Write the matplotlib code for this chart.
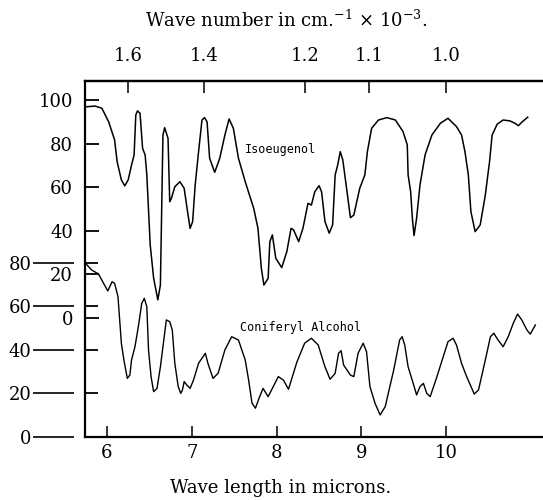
import numpy as np
import matplotlib
matplotlib.use("Agg")
from matplotlib import pyplot as plt

plt.rcParams["font.family"] = "DejaVu Serif"
plt.rcParams["mathtext.fontset"] = "dejavuserif"

# Isoeugenol (wave length in microns, % transmission)
iso_um = [5.76, 5.86, 5.94, 6.02, 6.09, 6.12, 6.17, 6.21, 6.25, 6.29, 6.32, 6.34, 6.36, 6.39,
          6.42, 6.45, 6.47, 6.51, 6.55, 6.60, 6.63, 6.65, 6.66, 6.68, 6.72, 6.74, 6.76, 6.80,
          6.86, 6.91, 6.95, 6.98, 7.01, 7.04, 7.08, 7.12, 7.15, 7.18, 7.21, 7.27, 7.33, 7.39,
          7.44, 7.49, 7.55, 7.63, 7.73, 7.78, 7.82, 7.85, 7.90, 7.92, 7.95, 7.99, 8.06, 8.12,
          8.17, 8.20, 8.26, 8.31, 8.37, 8.41, 8.45, 8.50, 8.53, 8.57, 8.62, 8.66, 8.69, 8.72,
          8.75, 8.78, 8.83, 8.87, 8.91, 8.98, 9.04, 9.07, 9.12, 9.20, 9.30, 9.40, 9.49, 9.54,
          9.55, 9.58, 9.60, 9.62, 9.65, 9.69, 9.75, 9.83, 9.93, 10.02, 10.12, 10.18, 10.22,
          10.26, 10.29, 10.34, 10.40, 10.46, 10.51, 10.54, 10.60, 10.67, 10.75, 10.81, 10.85,
          10.89, 10.96]
iso_t = [96.9, 97.2, 96.2, 90.0, 81.7, 71.7, 63.3, 60.6, 63.3, 70.2, 74.8, 93.1, 95.0, 93.9,
         77.8, 74.8, 65.6, 33.5, 18.3, 8.3, 15.1, 61.0, 83.9, 87.3, 82.4, 53.3, 54.9, 60.2,
         62.5, 59.5, 48.8, 41.1, 44.2, 61.0, 76.3, 90.8, 91.9, 90.0, 73.3, 66.8, 73.3, 83.9,
         91.3, 87.0, 73.3, 62.5, 50.3, 41.1, 22.8, 15.1, 18.2, 35.0, 38.1, 27.4, 23.1, 30.4,
         41.1, 40.4, 35.0, 41.1, 52.6, 51.8, 57.9, 60.7, 57.9, 44.2, 38.9, 42.7, 65.6, 70.2,
         76.3, 72.5, 57.9, 46.0, 47.2, 59.5, 65.6, 76.3, 87.0, 90.8, 91.9, 90.8, 85.5, 79.4,
         65.6, 57.9, 45.7, 37.8, 45.7, 61.0, 74.8, 83.9, 89.3, 91.6, 87.8, 83.9, 76.3,
         65.6, 48.8, 39.6, 42.7, 56.4, 71.7, 83.9, 88.9, 90.8, 90.4, 89.3, 88.2,
         89.8, 92.1]

# Coniferyl alcohol
con_um = [5.74, 5.82, 5.90, 5.96, 6.01, 6.06, 6.09, 6.13, 6.17, 6.20, 6.24, 6.27, 6.29, 6.33,
          6.37, 6.41, 6.44, 6.47, 6.49, 6.52, 6.55, 6.59, 6.63, 6.66, 6.70, 6.74, 6.77, 6.80,
          6.84, 6.87, 6.89, 6.91, 6.94, 6.98, 7.02, 7.08, 7.16, 7.19, 7.25, 7.31, 7.39, 7.47,
          7.55, 7.63, 7.67, 7.71, 7.75, 7.80, 7.84, 7.90, 7.96, 8.02, 8.08, 8.14, 8.24, 8.33,
          8.41, 8.49, 8.57, 8.63, 8.69, 8.73, 8.76, 8.79, 8.87, 8.91, 8.96, 9.02, 9.06, 9.10,
          9.16, 9.22, 9.28, 9.38, 9.45, 9.48, 9.51, 9.55, 9.61, 9.65, 9.69, 9.73, 9.77, 9.81,
          9.89, 9.97, 10.02, 10.08, 10.12, 10.18, 10.24, 10.33, 10.38, 10.46, 10.52, 10.56,
          10.61, 10.67, 10.73, 10.79, 10.84, 10.89, 10.95, 10.99, 11.05]
con_t = [80.0, 76.6, 74.8, 70.5, 67.0, 71.2, 70.5, 64.4, 43.0, 35.3, 26.9, 28.4, 35.3, 41.4,
         50.6, 61.3, 63.6, 59.8, 39.9, 27.7, 20.8, 22.3, 32.2, 41.4, 53.7, 52.9, 49.1, 33.8,
         23.1, 20.0, 21.6, 25.4, 23.9, 22.3, 26.1, 33.8, 38.4, 33.8, 26.9, 29.2, 39.9, 46.0,
         44.5, 35.3, 26.1, 15.5, 13.2, 18.5, 22.3, 18.5, 23.1, 27.7, 26.1, 21.9, 34.5, 43.0,
         45.3, 42.2, 32.2, 26.5, 29.2, 38.4, 39.6, 33.0, 28.4, 27.7, 38.4, 43.0, 39.1, 23.1,
         15.5, 10.1, 13.9, 30.7, 44.5, 46.0, 42.2, 32.2, 24.6, 19.3, 23.1, 24.6, 20.0, 18.5,
         27.7, 37.6, 43.7, 45.3, 42.2, 33.8, 27.7, 19.7, 21.6, 35.3, 46.0, 47.6,
         44.5, 41.4, 46.0, 52.2, 56.4, 53.7, 49.1, 47.2, 51.4]

upper_ticks = [0, 20, 40, 60, 80, 100]
lower_ticks = [0, 20, 40, 60, 80]
micron_ticks = [6, 7, 8, 9, 10]
wavenumber_ticks = [1.6, 1.4, 1.2, 1.1, 1.0]


def to_wavenumber(x):
    x = np.asarray(x, dtype=float)
    with np.errstate(divide="ignore"):
        return 10.0 / x


fig = plt.figure(figsize=(5.43, 5.0), dpi=100)
ax = fig.add_axes([0.1565, 0.126, 0.8435, 0.712])
ax_low = ax.twinx()
ax_in = ax.twinx()

ax.plot(iso_um, iso_t, color="black", lw=1.1, solid_joinstyle="round")
ax_low.plot(con_um, con_t, color="black", lw=1.0, solid_joinstyle="round")

ax.set_xlim(5.741, 11.14)
ax.set_ylim(-54.6, 108.7)
ax.spines["right"].set_visible(False)
for s in ["left", "top", "bottom"]:
    ax.spines[s].set_linewidth(1.6)
ax.set_xticks(micron_ticks)
ax.set_yticks(upper_ticks)
ax.tick_params(axis="y", direction="in", length=10, width=1.3, labelsize=13, pad=8.6)
ax.tick_params(axis="x", direction="in", length=8, width=1.1, labelsize=13, pad=5)

# lower scale: long ticks out on the far left, short ones inside the frame
for a in (ax_low, ax_in):
    a.set_ylim(0, 163.3)
    for s in a.spines.values():
        s.set_visible(False)
    a.yaxis.tick_left()
    a.set_yticks(lower_ticks)
ax_low.spines["left"].set_position(("outward", 7.9))
ax_low.tick_params(axis="y", direction="out", length=29.5, width=1.2, labelsize=13, pad=1,
                   left=True, right=False, labelleft=True, labelright=False)
ax_in.tick_params(axis="y", direction="in", length=9.5, width=1.3,
                  left=True, right=False, labelleft=False, labelright=False)

sec = ax.secondary_xaxis("top", functions=(to_wavenumber, to_wavenumber))
sec.set_xticks(wavenumber_ticks)
sec.set_xticklabels([f"{w:.1f}" for w in wavenumber_ticks])
sec.tick_params(direction="in", length=8.6, width=1.1, labelsize=13, pad=11.5)
sec.spines["top"].set_linewidth(1.6)

ax.text(7.63, 77.5, "Isoeugenol", family="DejaVu Sans Mono", fontsize=8.5, va="center")
ax_low.text(7.57, 50.0, "Coniferyl Alcohol", family="DejaVu Sans Mono", fontsize=8.5,
            va="center")

fig.text(0.527, 0.96, r"Wave number in cm.$^{-1}$ $\times$ 10$^{-3}$.",
         ha="center", va="center", fontsize=13)
fig.text(0.517, 0.024, "Wave length in microns.", ha="center", va="center", fontsize=13)

fig.savefig("out.png", dpi=100)
plt.close(fig)
